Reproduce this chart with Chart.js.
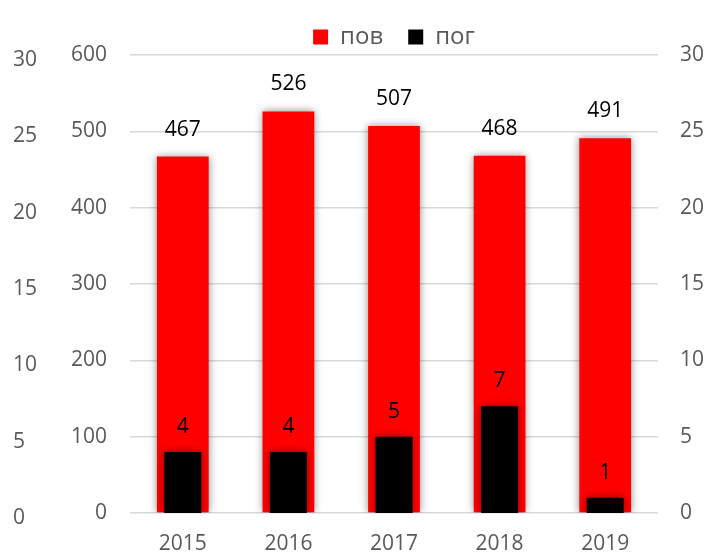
<!DOCTYPE html>
<html>
<head>
<meta charset="utf-8">
<script src="https://cdn.jsdelivr.net/npm/chart.js@4"></script>
<style>
  body { margin: 0; background: #fff; }
  #wrap { width: 707px; height: 553px; }
</style>
</head>
<body>
<div id="wrap"><canvas id="chart" width="707" height="553"></canvas></div>
<script>
const years = ['2015', '2016', '2017', '2018', '2019'];
const povValues = [467, 526, 507, 468, 491];
const pogValues = [4, 4, 5, 7, 1];

const font = { family: '"Open Sans", sans-serif', size: 21 };
const tickColor = '#595959';

// soft shadow behind the bars
const shadowPlugin = {
  id: 'shadow',
  beforeDatasetsDraw(chart) {
    const ctx = chart.ctx;
    ctx.save();
    ctx.shadowColor = 'rgba(0,0,0,0.45)';
    ctx.shadowBlur = 8;
    ctx.shadowOffsetX = 0;
    ctx.shadowOffsetY = 0;
  },
  afterDatasetsDraw(chart) {
    chart.ctx.restore();
  }
};

// value labels above each bar
const valueLabels = {
  id: 'valueLabels',
  afterDatasetsDraw(chart) {
    const ctx = chart.ctx;
    ctx.save();
    ctx.font = `${font.size}px ${font.family}`;
    ctx.fillStyle = '#000';
    ctx.textAlign = 'center';
    ctx.textBaseline = 'middle';
    chart.data.datasets.forEach((ds, i) => {
      const meta = chart.getDatasetMeta(i);
      meta.data.forEach((bar, j) => {
        ctx.fillText(ds.data[j], bar.x, bar.y - ds.labelGap);
      });
    });
    ctx.restore();
  }
};

new Chart(document.getElementById('chart'), {
  type: 'bar',
  data: {
    labels: years,
    datasets: [
      {
        label: 'пов',
        data: povValues,
        backgroundColor: '#ff0000',
        yAxisID: 'y',
        barPercentage: 0.49,
        categoryPercentage: 1,
        order: 2,
        labelGap: 27
      },
      {
        label: 'пог',
        data: pogValues,
        backgroundColor: '#000000',
        yAxisID: 'y2',
        barPercentage: 0.35,
        categoryPercentage: 1,
        order: 1,
        labelGap: 25
      }
    ]
  },
  options: {
    responsive: false,
    animation: false,
    datasets: { bar: { grouped: false } },
    layout: { padding: { left: 13, right: 0, top: 0, bottom: 0 } },
    plugins: {
      legend: {
        fullSize: false,
        maxHeight: 55,
        labels: {
          boxWidth: 15,
          boxHeight: 15,
          padding: 25,
          color: tickColor,
          font: { family: font.family, size: 24 },
          sort: (a, b) => a.datasetIndex - b.datasetIndex
        }
      },
      tooltip: { enabled: false }
    },
    scales: {
      x: {
        grid: { display: false, drawTicks: false },
        border: { display: false },
        ticks: { color: tickColor, font: font, padding: 18 },
        afterFit(scale) { scale.height = 40; }
      },
      y: {
        position: 'left',
        weight: 0,
        min: 0,
        max: 600,
        ticks: { stepSize: 100, color: tickColor, font: font, padding: 23 },
        grid: { color: '#d9d9d9', lineWidth: 1.5, drawTicks: false },
        border: { display: false },
        afterFit(scale) { scale.width = 60; }
      },
      yOuter: {
        position: 'left',
        weight: 1,
        min: 0,
        max: 30,
        ticks: { stepSize: 5, color: tickColor, font: font, crossAlign: 'far', labelOffset: 5, padding: 0 },
        grid: { display: false, drawTicks: false },
        border: { display: false },
        afterFit(scale) { scale.width = 57; }
      },
      y2: {
        position: 'right',
        min: 0,
        max: 30,
        ticks: { stepSize: 5, color: tickColor, font: font, padding: 22 },
        grid: { display: false, drawTicks: false },
        border: { display: false },
        afterFit(scale) { scale.width = 49; }
      }
    }
  },
  plugins: [shadowPlugin, valueLabels]
});
</script>
</body>
</html>
